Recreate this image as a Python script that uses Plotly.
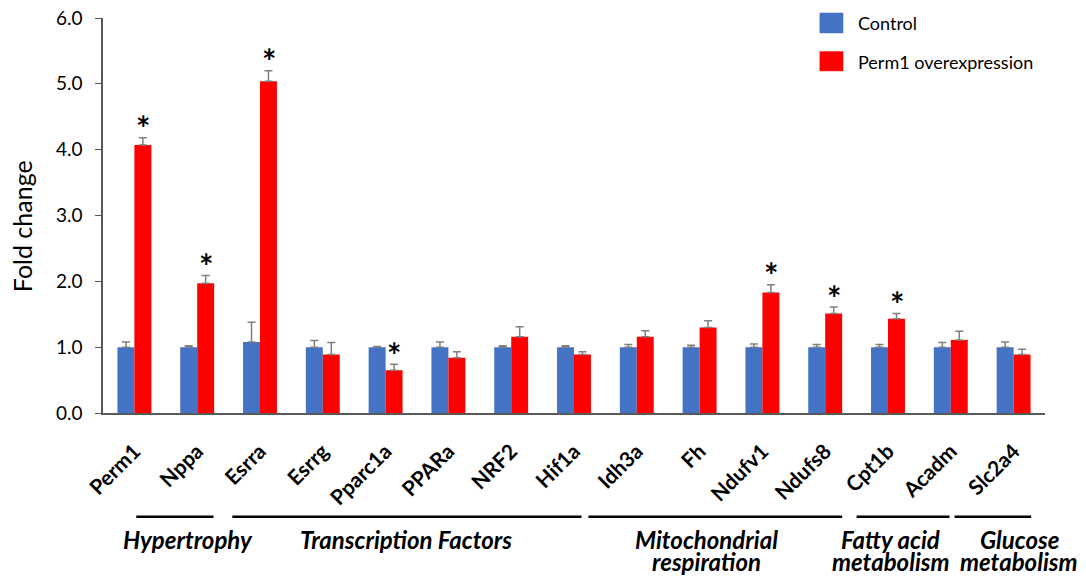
import plotly.graph_objects as go

genes = ["Perm1", "Nppa", "Esrra", "Esrrg", "Pparc1a", "PPARa", "NRF2", "Hif1a",
         "Idh3a", "Fh", "Ndufv1", "Ndufs8", "Cpt1b", "Acadm", "Slc2a4"]
control = [1.00, 1.00, 1.08, 1.00, 1.00, 1.00, 1.00, 1.00, 1.00, 1.00, 1.00, 1.00, 1.00, 1.00, 1.00]
control_err = [0.08, 0.02, 0.30, 0.10, 0.01, 0.08, 0.02, 0.02, 0.04, 0.03, 0.05, 0.04, 0.04, 0.07, 0.08]
perm1_oe = [4.07, 1.97, 5.04, 0.89, 0.65, 0.84, 1.16, 0.89, 1.16, 1.30, 1.83, 1.51, 1.43, 1.11, 0.89]
perm1_err = [0.11, 0.12, 0.16, 0.18, 0.09, 0.09, 0.15, 0.04, 0.09, 0.10, 0.12, 0.10, 0.08, 0.13, 0.08]
significant = [True, True, True, False, True, False, False, False,
               False, False, True, True, True, False, False]

groups = [["Hypertrophy"], ["Transcription Factors"], ["Mitochondrial", "respiration"],
          ["Fatty acid", "metabolism"], ["Glucose", "metabolism"]]
group_spans = [(0.03, 1.26), (1.56, 7.12), (7.23, 11.27), (11.5, 12.98), (13.06, 14.28)]
group_label_x = [0.86, 4.33, 9.11, 12.04, 14.09]

BLUE = "#4472C4"
RED = "#FF0000"
FONT = "Lato"

fig = go.Figure()
fig.add_trace(go.Bar(
    x=genes, y=control, name="Control", marker=dict(color=BLUE, line=dict(width=0)),
    error_y=dict(type="data", symmetric=False, array=control_err, arrayminus=[0] * len(genes),
                 color="#7f7f7f", thickness=1.5, width=4),
))
fig.add_trace(go.Bar(
    x=genes, y=perm1_oe, name="Perm1 overexpression", marker=dict(color=RED, line=dict(width=0)),
    error_y=dict(type="data", symmetric=False, array=perm1_err, arrayminus=[0] * len(genes),
                 color="#7f7f7f", thickness=1.5, width=4),
))

annotations = []
# significance asterisks over the red bars
for i, (g, v, e, s) in enumerate(zip(genes, perm1_oe, perm1_err, significant)):
    if s:
        annotations.append(dict(
            x=i, y=v + e, xref="x", yref="y", text="<b>*</b>", showarrow=False,
            xshift=8.5, yshift=10, yanchor="middle",
            font=dict(family=FONT, size=34, color="black"),
        ))

shapes = []
# group bracket lines and labels (plot area: 395 px tall)
line_y = [-0.319, -0.377]
for (x0, x1), lines, lx in zip(group_spans, groups, group_label_x):
    shapes.append(dict(type="line", xref="x", yref="paper", x0=x0, x1=x1, y0=-0.2625, y1=-0.2625,
                       line=dict(color="black", width=2.5)))
    for k, txt in enumerate(lines):
        annotations.append(dict(
            x=lx, y=line_y[k], xref="x", yref="paper",
            text="<b><i>" + txt + "</i></b>", showarrow=False,
            xanchor="center", yanchor="middle", align="center",
            font=dict(family=FONT, size=24, color="black"),
        ))

# y-axis title
annotations.append(dict(x=-0.086, y=0.473, xref="paper", yref="paper", text="Fold change",
                        textangle=-90, showarrow=False, xanchor="center", yanchor="middle",
                        font=dict(family=FONT, size=25, color="black")))

# manual legend
legend_items = [("Control", BLUE, 1.0127, 0.962, 0.987), ("Perm1 overexpression", RED, 0.915, 0.866, 0.8886)]
for name, col, y1, y0, ty in legend_items:
    shapes.append(dict(type="rect", xref="paper", yref="paper", x0=0.761, x1=0.7856, y0=y0, y1=y1,
                       fillcolor=col, line=dict(color=col, width=0.5)))
    annotations.append(dict(x=0.7994, y=ty, xref="paper", yref="paper", text=name, showarrow=False,
                            xanchor="left", yanchor="middle",
                            font=dict(family=FONT, size=18, color="black")))

# page body has an 8px margin, so the figure is sized/offset to compensate
fig.update_layout(
    width=1078, height=568,
    margin=dict(l=95, r=41, t=10, b=163),
    paper_bgcolor="white", plot_bgcolor="white",
    barmode="group", bargap=0.46, bargroupgap=0,
    showlegend=False,
    font=dict(family=FONT, color="black"),
    shapes=shapes, annotations=annotations,
    xaxis=dict(
        range=[-0.5, len(genes) - 0.5], autorange=False,
        showline=True, linecolor="#595959", linewidth=1.5, ticks="", automargin=False,
        tickangle=-45, tickfont=dict(family=FONT, size=21, color="black", weight="bold"),
        ticklabelstandoff=16, showgrid=False, ticklabeloverflow="allow",
    ),
    yaxis=dict(
        range=[0, 6], autorange=False, dtick=1, tickformat=".1f", showline=True,
        linecolor="#595959", linewidth=1.5,
        ticks="outside", ticklen=6, tickcolor="#595959", showgrid=False, zeroline=False,
        automargin=False, ticklabelstandoff=9, ticklabeloverflow="allow",
        tickfont=dict(family=FONT, size=19, color="black"),
    ),
)

fig.write_html("out.html")
